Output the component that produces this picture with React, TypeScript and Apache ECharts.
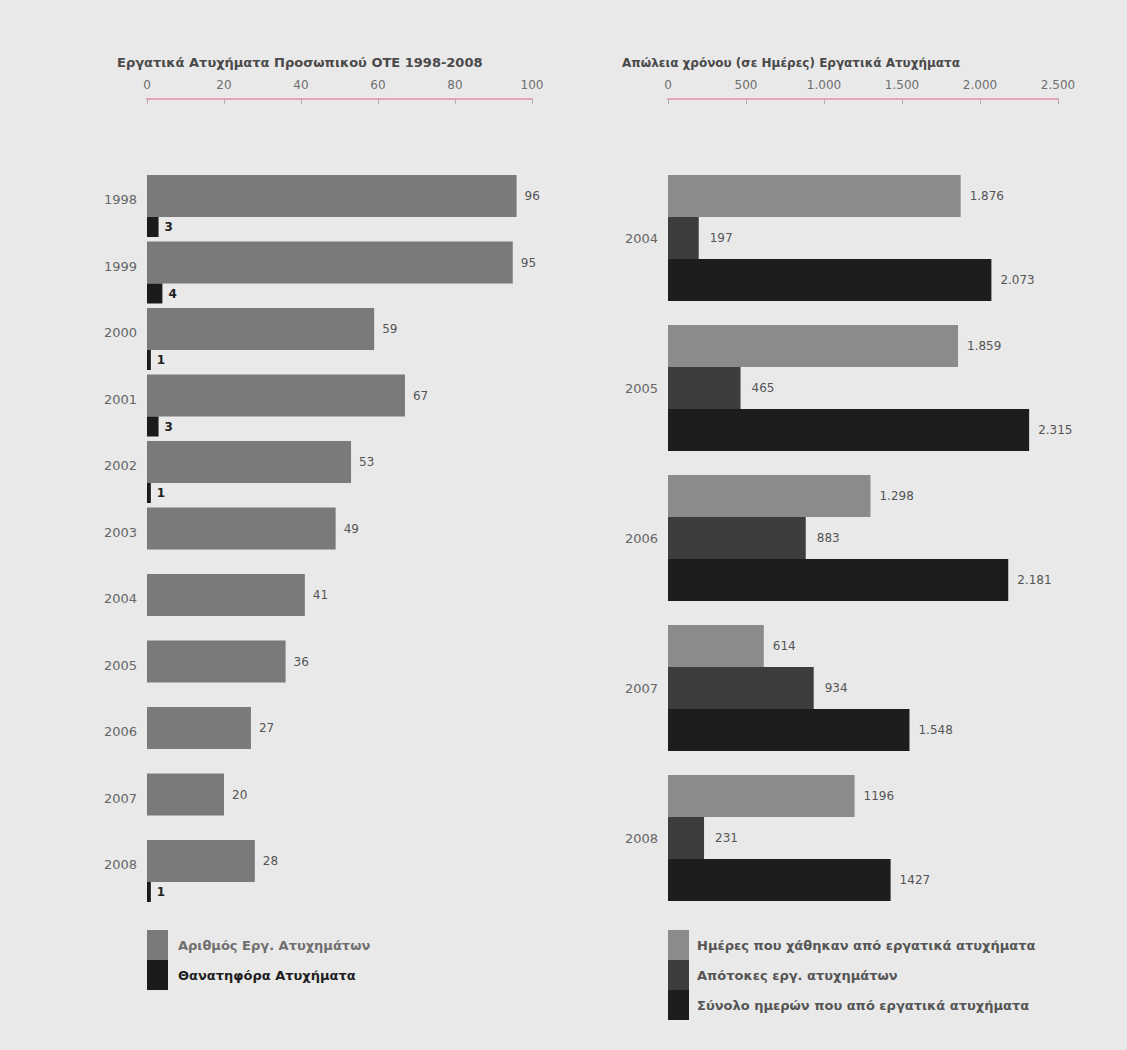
import React, { useEffect, useRef } from "react";
import * as echarts from "echarts";

const yearsLeft = ["1998", "1999", "2000", "2001", "2002", "2003", "2004", "2005", "2006", "2007", "2008"];
const accidents = [96, 95, 59, 67, 53, 49, 41, 36, 27, 20, 28];
const fatal = [3, 4, 1, 3, 1, null, null, null, null, null, 1];

const yearsRight = ["2004", "2005", "2006", "2007", "2008"];
const daysLost = [1876, 1859, 1298, 614, 1196];
const sickLeave = [197, 465, 883, 934, 231];
const totalDays = [2073, 2315, 2181, 1548, 1427];
const daysLostLabels = ["1.876", "1.859", "1.298", "614", "1196"];
const sickLeaveLabels = ["197", "465", "883", "934", "231"];
const totalDaysLabels = ["2.073", "2.315", "2.181", "1.548", "1427"];

const leftTitle = "Εργατικά Ατυχήματα Προσωπικού ΟΤΕ 1998-2008";
const rightTitle = "Απώλεια χρόνου (σε Ημέρες) Εργατικά Ατυχήματα";
const nameAccidents = "Αριθμός Εργ. Ατυχημάτων";
const nameFatal = "Θανατηφόρα Ατυχήματα";
const nameDaysLost = "Ημέρες που χάθηκαν από εργατικά ατυχήματα";
const nameSickLeave = "Απότοκες εργ. ατυχημάτων";
const nameTotal = "Σύνολο ημερών που από εργατικά ατυχήματα";

const FONT = "'DejaVu Sans', sans-serif";
const fmtThousands = (v: number) => String(v).replace(/\B(?=(\d{3})+(?!\d))/g, ".");

export default function App() {
  const ref = useRef<HTMLDivElement>(null);
  useEffect(() => {
    if (!ref.current) return;
    const chart = echarts.init(ref.current, null, { renderer: "svg" });
    const axisLine = { show: true, lineStyle: { color: "#e3a3bd", width: 2 } };
    const axisTick = { show: true, inside: true, length: 5, lineStyle: { color: "#b9a9b0", width: 1 } };
    const valLabel = { color: "#6e6e6e", fontSize: 12, fontFamily: FONT, margin: 8 };
    const catLabelBase = { color: "#666", fontSize: 13, fontFamily: FONT, margin: 10 };
    const barLabel = (labels: string[] | null, color: string, weight: string, dist: number) => ({
      show: true,
      position: "right",
      distance: dist,
      color,
      fontSize: 12,
      fontWeight: weight,
      fontFamily: FONT,
      formatter: (p: any) => (labels ? labels[p.dataIndex] : String(p.value)),
    });
    const legendText = (color: string, weight: string, pad: number) => ({
      color,
      fontWeight: weight,
      fontSize: 13,
      fontFamily: FONT,
      padding: [0, 0, 0, pad],
    });

    chart.setOption({
      animation: false,
      backgroundColor: "#e9e9e9",
      textStyle: { fontFamily: FONT },
      title: [
        { text: leftTitle, left: 112, top: 51, textStyle: { fontSize: 13, fontWeight: "bold", color: "#4a4a4a", fontFamily: FONT } },
        { text: rightTitle, left: 617, top: 52, textStyle: { fontSize: 12, fontWeight: "bold", color: "#4a4a4a", fontFamily: FONT } },
      ],
      legend: [
        {
          orient: "vertical",
          left: 142,
          top: 925,
          itemWidth: 21,
          itemHeight: 30,
          itemGap: 0,
          icon: "rect",
          data: [
            { name: nameAccidents, textStyle: legendText("#6f6f6f", "bold", 5) },
            { name: nameFatal, textStyle: legendText("#1e1e1e", "bold", 5) },
          ],
          textStyle: { fontFamily: FONT },
        },
        {
          orient: "vertical",
          left: 663,
          top: 925,
          itemWidth: 21,
          itemHeight: 30,
          itemGap: 0,
          icon: "rect",
          data: [
            { name: nameDaysLost, textStyle: legendText("#555", "bold", 3) },
            { name: nameSickLeave, textStyle: legendText("#555", "bold", 3) },
            { name: nameTotal, textStyle: legendText("#555", "bold", 3) },
          ],
          textStyle: { fontFamily: FONT },
        },
      ],
      grid: [
        { left: 147, top: 172.75, width: 385, height: 731.5 },
        { left: 668, top: 163, width: 390, height: 750 },
      ],
      xAxis: [
        {
          gridIndex: 0,
          type: "value",
          position: "top",
          offset: 74,
          min: 0,
          max: 100,
          interval: 20,
          axisLine,
          axisTick,
          splitLine: { show: false },
          axisLabel: valLabel,
        },
        {
          gridIndex: 1,
          type: "value",
          position: "top",
          offset: 64,
          min: 0,
          max: 2500,
          interval: 500,
          axisLine,
          axisTick,
          splitLine: { show: false },
          axisLabel: { ...valLabel, formatter: (v: number) => fmtThousands(v) },
        },
      ],
      yAxis: [
        {
          gridIndex: 0,
          type: "category",
          inverse: true,
          data: yearsLeft,
          axisLine: { show: false },
          axisTick: { show: false },
          axisLabel: { ...catLabelBase, verticalAlign: "bottom" },
        },
        {
          gridIndex: 1,
          type: "category",
          inverse: true,
          data: yearsRight,
          axisLine: { show: false },
          axisTick: { show: false },
          axisLabel: catLabelBase,
        },
      ],
      series: [
        {
          name: nameAccidents,
          type: "bar",
          xAxisIndex: 0,
          yAxisIndex: 0,
          data: accidents,
          barWidth: 42,
          barGap: "0%",
          itemStyle: { color: "#7a7a7a" },
          label: barLabel(null, "#555", "normal", 8),
        },
        {
          name: nameFatal,
          type: "bar",
          xAxisIndex: 0,
          yAxisIndex: 0,
          data: fatal,
          barWidth: 20,
          barGap: "0%",
          itemStyle: { color: "#1b1b1b" },
          label: barLabel(null, "#222", "bold", 6),
        },
        {
          name: nameDaysLost,
          type: "bar",
          xAxisIndex: 1,
          yAxisIndex: 1,
          data: daysLost,
          barWidth: 42,
          barGap: "0%",
          itemStyle: { color: "#8b8b8b" },
          label: barLabel(daysLostLabels, "#555", "normal", 9),
        },
        {
          name: nameSickLeave,
          type: "bar",
          xAxisIndex: 1,
          yAxisIndex: 1,
          data: sickLeave,
          barWidth: 42,
          barGap: "0%",
          itemStyle: { color: "#3d3d3d" },
          label: barLabel(sickLeaveLabels, "#555", "normal", 11),
        },
        {
          name: nameTotal,
          type: "bar",
          xAxisIndex: 1,
          yAxisIndex: 1,
          data: totalDays,
          barWidth: 42,
          barGap: "0%",
          itemStyle: { color: "#1d1d1d" },
          label: barLabel(totalDaysLabels, "#555", "normal", 9),
        },
      ],
    });
    return () => chart.dispose();
  }, []);
  return <div ref={ref} style={{ position: "fixed", left: 0, top: 0, width: 1127, height: 1050 }} />;
}
